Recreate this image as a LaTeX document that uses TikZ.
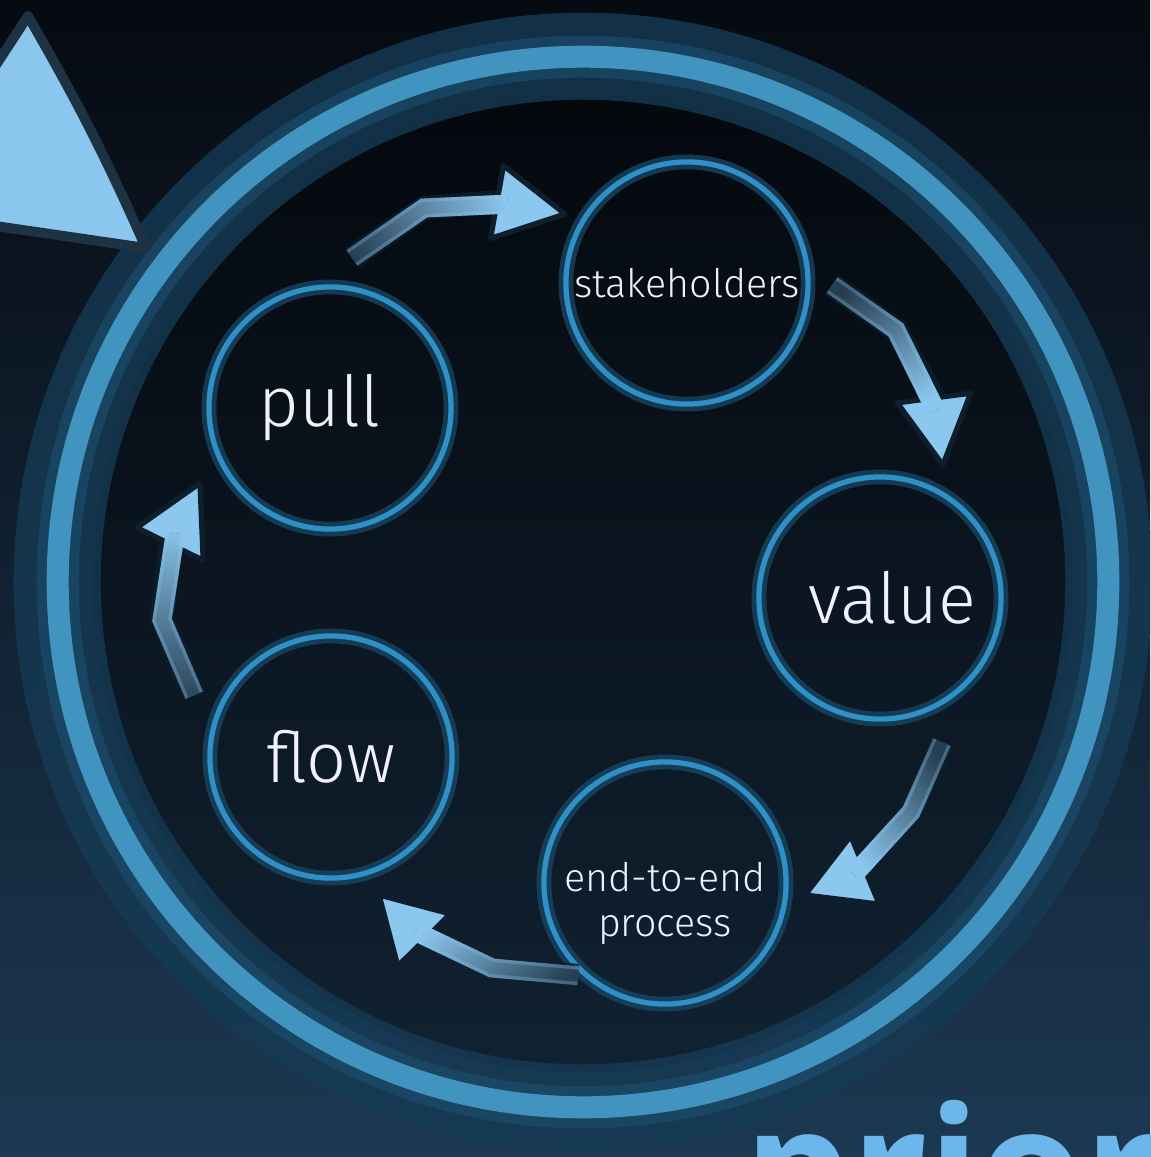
\documentclass[tikz,border=0pt]{standalone}
\usepackage{fontspec}
\setmainfont{Open Sans}
\IfFontExistsTF{Fira Sans Light}{\newfontfamily\thinfont{Fira Sans Light}}{\newfontfamily\thinfont{Open Sans}}
\usetikzlibrary{calc,fadings}

\definecolor{bgtop}{HTML}{060A11}
\definecolor{bgmid}{HTML}{0E1D2C}
\definecolor{bgbottom}{HTML}{1C3852}
\definecolor{ringbright}{HTML}{4294C0}
\definecolor{ringnear}{HTML}{1E5273}
\definecolor{ringdim}{HTML}{153A54}
\definecolor{stagecyan}{HTML}{2E90C6}
\definecolor{stageglow}{HTML}{1A4C6A}
\definecolor{tipblue}{HTML}{8CC7EF}
\definecolor{edgedark}{HTML}{0E1E2C}
\definecolor{rimblue}{HTML}{7DB3DA}
\definecolor{priorblue}{HTML}{6CB6EC}
\definecolor{pointerblue}{HTML}{8AC6EE}
\definecolor{pointeredge}{HTML}{1D3344}

\tikzset{
  stage/.style={circle, minimum size=2.42cm, inner sep=0pt, draw=stagecyan, line width=1.5pt,
    preaction={draw=stageglow, line width=4.2pt, opacity=.7}, text=white!94!blue},
  biglabel/.style={font=\thinfont\fontsize{20}{24}\selectfont},
  smalllabel/.style={font=\thinfont\fontsize{11.2}{14.8}\selectfont, text=white!94!blue},
  stemedge/.style={draw=edgedark, line width=6.8pt, opacity=.8},
  stemrim/.style={draw=rimblue, line width=5.4pt, opacity=.5},
  stemhollow/.style={draw=edgedark, line width=3.4pt, opacity=.55},
  stemfill/.style={draw=tipblue, line width=5.4pt},
  headtip/.style={fill=tipblue, draw=edgedark, line width=1.5pt, line join=round},
  pointer/.style={fill=pointerblue, draw=pointeredge, line width=2.8pt, line join=round},
}

% tail, bend, head base, tip, fading angle
\newcommand{\cyclearrow}[5]{%
  \draw[stemedge] (#1) -- (#2) -- (#3);
  \filldraw[headtip] ($(#3)!0.37cm!90:(#4)$) -- (#4) -- ($(#3)!0.37cm!-90:(#4)$) -- cycle;
  \draw[stemrim] (#1) -- (#2) -- ($(#3)!0.12cm!(#4)$);
  \draw[stemhollow] (#1) -- (#2) -- ($(#3)!0.12cm!(#4)$);
  \draw[stemfill, path fading=west, fading angle=#5] (#1) -- (#2) -- ($(#3)!0.12cm!(#4)$);
}

\begin{document}
\begin{tikzpicture}[x=0.01cm, y=-0.01cm]
  \useasboundingbox (0,0) rectangle (1150,1157);
  \clip (0,0) rectangle (1150,1157);
  \shade[top color=bgtop, middle color=bgmid, bottom color=bgbottom] (0,0) rectangle (1150,1157);

  % big ring
  \coordinate (hub) at (583,582);
  \fill[black, opacity=.35] (hub) circle (4.9cm);
  \draw[ringdim, line width=0.34cm, opacity=.8] (hub) circle (5.52cm);
  \draw[ringdim, line width=0.32cm, opacity=.8] (hub) circle (4.98cm);
  \draw[ringnear, line width=0.42cm, opacity=.55] (hub) circle (5.25cm);
  \draw[ringbright, line width=0.22cm] (hub) circle (5.25cm);

  % pointer in the corner
  \filldraw[pointer] (28,16) to[bend left=3] (146,248) -- (-100,212) -- cycle;

  % stages
  \node[stage, biglabel] (pull) at (330,408) {pull\hspace*{6pt}};
  \node[stage, smalllabel] (stakeholders) at (687,283) {stakeholders};
  \node[stage, biglabel] (value) at (880,598) {\hspace*{7pt}value};
  \node[stage] (endtoend) at (665,883) {};
  \node[smalllabel, align=center] (endtoendtext) at (665,903) {end-to-end\\[-2pt]process};
  \node[stage, biglabel] (flow) at (331,757) {flow};

  % arrows between stages
  \coordinate (t1) at ($(pull.center)+(81.7:1.516cm)$);
  \coordinate (b1) at (424,208);
  \coordinate (h1) at (497,202);
  \coordinate (e1) at ($(stakeholders.center)+(150.5:1.40cm)$);

  \coordinate (t2) at ($(stakeholders.center)+(-0.8:1.45cm)$);
  \coordinate (b2) at (896,330);
  \coordinate (h2) at (934,398);
  \coordinate (e2) at ($(value.center)+(64.7:1.47cm)$);

  \coordinate (t3) at ($(value.center)+(-66.7:1.568cm)$);
  \coordinate (b3) at (911,812);
  \coordinate (h3) at (865,870);
  \coordinate (e3) at ($(endtoend.center)+(-4.9:1.405cm)$);

  \coordinate (t4) at ($(endtoend.center)+(226.9:1.27cm)$);
  \coordinate (b4) at (492,968);
  \coordinate (h4) at (424,940);
  \coordinate (e4) at ($(flow.center)+(-70.8:1.46cm)$);

  \coordinate (t5) at ($(flow.center)+(155.7:1.50cm)$);
  \coordinate (b5) at (162,620);
  \coordinate (h5) at (170,544);
  \coordinate (e5) at ($(pull.center)+(210:1.50cm)$);

  \cyclearrow{t1}{b1}{h1}{e1}{11.7}
  \cyclearrow{t2}{b2}{h2}{e2}{-58}
  \cyclearrow{t3}{b3}{h3}{e3}{228.5}
  \cyclearrow{t4}{b4}{h4}{e4}{157.5}
  \cyclearrow{t5}{b5}{h5}{e5}{88}

  % word at the bottom edge
  \node[anchor=base west, inner sep=0pt, text=priorblue,
        font=\bfseries\fontsize{48}{50}\selectfont] (prior) at (744,1228) {prior};
\end{tikzpicture}
\end{document}
